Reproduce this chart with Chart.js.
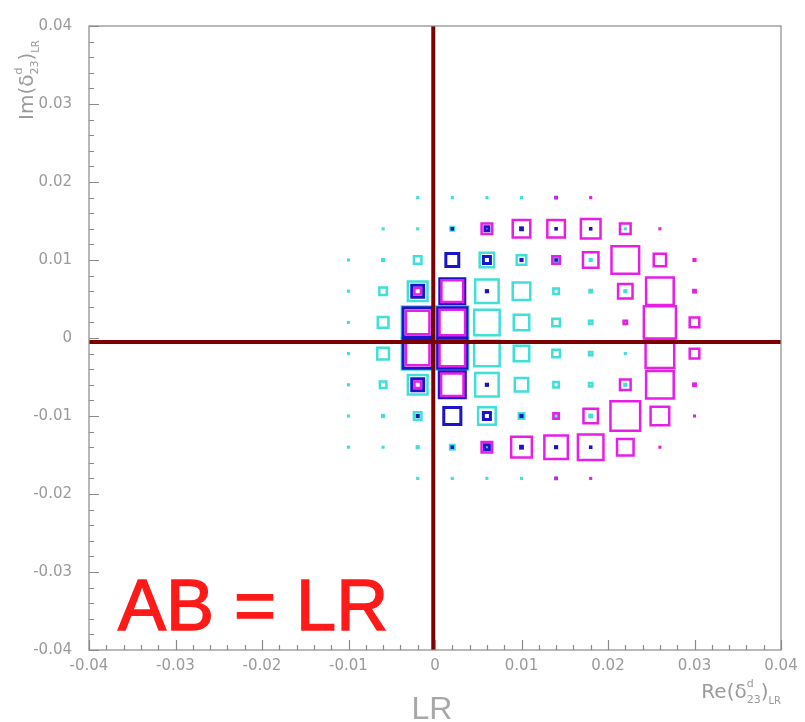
<!DOCTYPE html>
<html>
<head>
<meta charset="utf-8">
<script src="https://cdn.jsdelivr.net/npm/chart.js@4.4.1/dist/chart.umd.min.js"></script>
<style>
  html, body { margin: 0; padding: 0; background: #fff; }
  #wrap { width: 805px; height: 722px; position: relative; }
</style>
</head>
<body>
<div id="wrap"><canvas id="chart"></canvas></div>
<script>
// bin centres of the 2D histograms
const gridX = [-0.01, -0.006, -0.002, 0.002, 0.006, 0.01, 0.014, 0.018, 0.022, 0.026, 0.03];
const gridY = [0.018, 0.014, 0.01, 0.006, 0.002, -0.002, -0.006, -0.01, -0.014, -0.018];
const axisTicks = [-0.04, -0.03, -0.02, -0.01, 0, 0.01, 0.02, 0.03, 0.04];
const crossX = -0.0002;
const crossY = -0.0005;

// bin contents (rows follow gridY, columns follow gridX), 100 = full bin
const cyanBins = [
  [0, 0, 4, 9, 9, 9, 0, 0, 0, 0, 0],
  [0, 4, 9, 17, 0, 0, 0, 0, 9, 0, 0],
  [9, 12, 29, 0, 49, 35, 23, 12, 0, 0, 0],
  [9, 29, 64, 0, 75, 58, 23, 14, 12, 0, 0],
  [9, 38, 99, 99, 81, 52, 29, 17, 0, 0, 0],
  [9, 41, 99, 99, 81, 52, 29, 17, 9, 0, 0],
  [9, 26, 64, 0, 75, 46, 23, 17, 12, 0, 0],
  [6, 12, 29, 0, 58, 23, 17, 14, 0, 0, 0],
  [3, 9, 12, 20, 12, 0, 0, 0, 0, 0, 0],
  [0, 0, 9, 9, 9, 9, 0, 0, 0, 0, 0]
];
const blueBins = [
  [0, 0, 0, 0, 0, 0, 6, 0, 0, 0, 0],
  [0, 0, 0, 9, 20, 14, 9, 9, 0, 0, 0],
  [0, 0, 0, 46, 29, 12, 6, 0, 0, 0, 0],
  [0, 0, 43, 81, 12, 0, 0, 0, 0, 0, 0],
  [0, 0, 93, 93, 0, 0, 0, 0, 0, 0, 0],
  [0, 0, 93, 93, 0, 0, 0, 0, 0, 0, 0],
  [0, 0, 43, 84, 12, 0, 0, 0, 0, 0, 0],
  [0, 0, 12, 58, 29, 12, 0, 0, 0, 0, 0],
  [0, 0, 0, 9, 23, 14, 12, 9, 0, 0, 0],
  [0, 0, 0, 0, 0, 0, 9, 0, 0, 0, 0]
];
const magentaBins = [
  [0, 0, 0, 0, 0, 0, 6, 9, 0, 0, 0],
  [0, 0, 0, 0, 38, 58, 58, 64, 38, 3, 0],
  [0, 0, 0, 0, 0, 0, 29, 52, 87, 43, 12],
  [0, 0, 26, 70, 0, 0, 0, 0, 49, 87, 14],
  [0, 0, 75, 81, 0, 0, 0, 0, 17, 100, 35],
  [0, 0, 75, 81, 0, 0, 0, 0, 0, 90, 35],
  [0, 0, 26, 72, 0, 0, 0, 0, 38, 87, 14],
  [0, 0, 0, 0, 0, 0, 23, 49, 93, 61, 3],
  [0, 0, 0, 0, 38, 67, 75, 81, 55, 3, 0],
  [0, 0, 0, 0, 0, 0, 9, 9, 0, 0, 0]
];

function toPoints(bins) {
  const pts = [];
  bins.forEach((row, r) => row.forEach((v, c) => {
    if (v > 0) pts.push({ x: gridX[c], y: gridY[r], v: v });
  }));
  return pts;
}

// box side follows bin content, like ROOT's "box" option
function boxRadius(bw) {
  return ctx => {
    const sx = ctx.chart.scales.x;
    if (!ctx.raw || !sx) return 0;
    const cell = Math.abs(sx.getPixelForValue(gridX[1]) - sx.getPixelForValue(gridX[0]));
    const side = Math.max(ctx.raw.v / 100 * cell - bw, 0.6);
    return side / Math.SQRT2;
  };
}

function boxSet(label, bins, color, bw) {
  return {
    label, data: toPoints(bins),
    pointStyle: 'rect',
    pointRadius: boxRadius(bw),
    pointHoverRadius: boxRadius(bw),
    borderColor: color,
    backgroundColor: 'rgba(0,0,0,0)',
    pointBorderWidth: bw,
    borderWidth: bw
  };
}

const greyTxt = '#9a9a9a';

function drawRich(ctx, parts, x, y) {
  let cx = x;
  for (const p of parts) {
    ctx.font = p.size + 'px "DejaVu Sans"';
    ctx.fillText(p.t, cx, y + (p.dy || 0));
    const w = ctx.measureText(p.t).width;
    if (p.stack) p.stack.forEach(s => {
      ctx.font = s.size + 'px "DejaVu Sans"';
      ctx.fillText(s.t, cx, y + s.dy);
    });
    if (!p.hold) cx += w;
  }
  return cx - x;
}

function titleParts(head) {
  return [
    { t: head, size: 20 },
    { t: 'd', size: 11, dy: -11, hold: true },
    { t: '23', size: 11, dy: 5 },
    { t: ')', size: 20 },
    { t: 'LR', size: 10, dy: 6 }
  ];
}

function measureRich(ctx, parts) {
  let w = 0;
  for (const p of parts) {
    ctx.font = p.size + 'px "DejaVu Sans"';
    if (!p.hold) w += ctx.measureText(p.t).width;
  }
  return w;
}

const rootFrame = {
  id: 'rootFrame',
  afterDraw(chart) {
    const { ctx, chartArea: a, scales: { x, y } } = chart;
    ctx.save();
    ctx.strokeStyle = '#8a8a8a';
    ctx.lineWidth = 1.2;
    ctx.strokeRect(a.left, a.top, a.right - a.left, a.bottom - a.top);
    ctx.beginPath();
    for (let i = 0; i <= 40; i++) {
      const v = axisTicks[0] + i * 0.002;
      const len = i % 5 === 0 ? 10 : 5;
      const px = Math.round(x.getPixelForValue(v)) + 0.5;
      ctx.moveTo(px, a.bottom); ctx.lineTo(px, a.bottom - len);
      const py = Math.round(y.getPixelForValue(v)) + 0.5;
      ctx.moveTo(a.left, py); ctx.lineTo(a.left + len, py);
    }
    ctx.stroke();

    ctx.fillStyle = greyTxt;
    ctx.textBaseline = 'alphabetic';
    ctx.textAlign = 'left';
    // x title, bottom right
    const xp = titleParts('Re(δ');
    const wx = measureRich(ctx, xp);
    drawRich(ctx, xp, a.right - wx, 698);
    // y title, rotated at top left
    ctx.save();
    ctx.translate(33, 120);
    ctx.rotate(-Math.PI / 2);
    drawRich(ctx, titleParts('Im(δ'), 0, 0);
    ctx.restore();

    // LR under the axis
    ctx.textAlign = 'center';
    ctx.font = '32px "Liberation Sans"';
    ctx.fillStyle = '#a8a8a8';
    ctx.fillText('LR', (a.left + a.right) / 2 - 3, 719);

    // red annotation
    ctx.textAlign = 'left';
    ctx.font = '72px "Liberation Sans"';
    ctx.fillStyle = '#ff1a1a';
    ctx.strokeStyle = '#ff1a1a';
    ctx.lineWidth = 1.5;
    ctx.fillText('AB = LR', 118, 630);
    ctx.strokeText('AB = LR', 118, 630);
    ctx.restore();
  }
};

const lineStyle = {
  showLine: true,
  borderColor: '#7d0000',
  borderWidth: 4,
  pointRadius: 0,
  pointHoverRadius: 0
};

new Chart(document.getElementById('chart'), {
  type: 'scatter',
  data: {
    datasets: [
      { label: 'v', data: [{ x: crossX, y: axisTicks[0] }, { x: crossX, y: axisTicks[8] }], ...lineStyle },
      { label: 'h', data: [{ x: axisTicks[0], y: crossY }, { x: axisTicks[8], y: crossY }], ...lineStyle },
      boxSet('magenta', magentaBins, '#e61ee6', 2.5),
      boxSet('blue', blueBins, '#1c14c8', 3),
      boxSet('cyan', cyanBins, '#3fe0d8', 2.5)
    ]
  },
  options: {
    responsive: true,
    maintainAspectRatio: false,
    animation: false,
    events: [],
    layout: { padding: { left: 0, top: 20, right: 24, bottom: 0 } },
    plugins: { legend: { display: false }, tooltip: { enabled: false } },
    scales: {
      x: {
        type: 'linear', min: -0.04, max: 0.04,
        afterFit: s => { s.height = 72; },
        afterBuildTicks: s => { s.ticks = axisTicks.map(v => ({ value: v })); },
        grid: { display: false, drawTicks: false },
        border: { display: false },
        ticks: {
          padding: 7, color: greyTxt,
          font: { family: 'DejaVu Sans', size: 15 },
          callback: v => v === 0 ? '0' : v.toFixed(2)
        }
      },
      y: {
        type: 'linear', min: -0.04, max: 0.04,
        afterFit: s => { s.width = 89; },
        afterBuildTicks: s => { s.ticks = axisTicks.map(v => ({ value: v })); },
        grid: { display: false, drawTicks: false },
        border: { display: false },
        ticks: {
          padding: 17, color: greyTxt,
          font: { family: 'DejaVu Sans', size: 15 },
          callback: v => v === 0 ? '0' : v.toFixed(2)
        }
      }
    }
  },
  plugins: [rootFrame]
});
</script>
</body>
</html>
